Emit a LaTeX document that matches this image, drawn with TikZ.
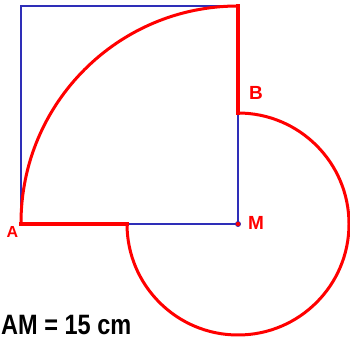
\documentclass[tikz,border=0pt]{standalone}
\usepackage{fontspec}
\setmainfont{Liberation Sans}
\newfontfamily\narrowfont[FakeStretch=0.84]{Liberation Sans}
\definecolor{sqblue}{rgb}{0.18,0.18,0.72}
\definecolor{pathred}{rgb}{1,0,0}
\begin{document}
\begin{tikzpicture}[x=1pt,y=1pt,
  sqline/.style={draw=sqblue,line width=1.2pt},
  redarc/.style={draw=pathred,line width=3pt,line join=round},
  redseg/.style={draw=pathred,line width=4pt,line cap=rect},
  ptlabel/.style={text=pathred,font=\bfseries\fontsize{19}{19}\selectfont,inner sep=0pt}]
\useasboundingbox (0,0) rectangle (350,342);
\coordinate (A) at (21,118);
\coordinate (M) at (238,118);
\coordinate (T) at (238,336);
\coordinate (TL) at (21,336);
\coordinate (N) at (127,118);
\coordinate (B) at (238,229);
% square
\draw[sqline] (A) -- (TL) -- (T) -- (M) -- cycle;
% red outline
\draw[redarc] (N) arc[start angle=180,end angle=450,radius=111];
\draw[redarc] (T) arc[start angle=90,end angle=180,radius=217];
\draw[redseg] (A) -- (N);
\draw[redseg] (B) -- (T);
% point M
\fill[pathred,draw=sqblue,line width=0.6pt] (M) circle (2.6pt);
% labels
\node[ptlabel,font=\bfseries\fontsize{16}{16}\selectfont] (lA) at (12.5,110.5) {A};
\node[ptlabel] (lB) at (256,249) {B};
\node[ptlabel] (lM) at (256,119) {M};
\node[anchor=base west,inner sep=0pt,font=\narrowfont\bfseries\fontsize{28}{28}\selectfont] (eq) at (1,8) {AM = 15 cm};
\end{tikzpicture}
\end{document}
